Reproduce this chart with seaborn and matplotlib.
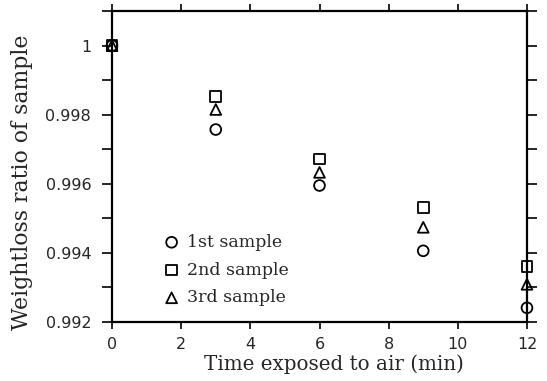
import matplotlib
matplotlib.use("Agg")
import matplotlib.pyplot as plt
import seaborn as sns
import pandas as pd
from matplotlib.ticker import MultipleLocator

# data
time_min = [0, 3, 6, 9, 12]
sample1 = [1.0, 0.99757, 0.99595, 0.99406, 0.99241]
sample2 = [1.0, 0.99853, 0.99672, 0.99532, 0.99360]
sample3 = [1.0, 0.99815, 0.99633, 0.99474, 0.99309]
labels = ["1st sample", "2nd sample", "3rd sample"]
markers = ["o", "s", "^"]

df = pd.DataFrame({
    "time": time_min * 3,
    "ratio": sample1 + sample2 + sample3,
    "sample": [l for l in labels for _ in time_min],
})

sns.set_style("ticks")
plt.rcParams["font.family"] = ["DejaVu Sans"]

fig = plt.figure(figsize=(5.47, 3.81), dpi=100)
ax = fig.add_axes([0.2048, 0.1549, 0.7586, 0.8162])

for lab, m in zip(labels, markers):
    sub = df[df["sample"] == lab]
    sns.scatterplot(data=sub, x="time", y="ratio", marker=m, s=60,
                    facecolors="none", edgecolor="black", linewidth=1.3,
                    label=lab, ax=ax, clip_on=False, zorder=3)

ax.set_xlim(0, 12)
ax.set_ylim(0.992, 1.001)
ax.xaxis.set_major_locator(MultipleLocator(2))
ax.yaxis.set_minor_locator(MultipleLocator(0.001))
ax.set_yticks([0.992, 0.994, 0.996, 0.998, 1.0])
ax.set_yticklabels(["0.992", "0.994", "0.996", "0.998", "1"])

ax.tick_params(which="both", direction="out", top=True, right=True,
               color="black", labelsize=11.5, width=1.2)
ax.tick_params(axis="y", which="both", length=7, pad=8)
ax.tick_params(axis="x", which="both", length=5, pad=6)
for sp in ax.spines.values():
    sp.set_linewidth(1.6)
    sp.set_color("black")

ax.set_xlabel("Time exposed to air (min)", family=["DejaVu Serif"], fontsize=14.3)
ax.set_ylabel("Weightloss ratio of sample", family=["DejaVu Serif"], fontsize=15.8)
ax.xaxis.set_label_coords(0.535, -0.105)
ax.yaxis.set_label_coords(-0.19, 0.45)

ax.legend(loc="lower left", bbox_to_anchor=(0.085, 0.0), frameon=False,
          prop={"family": "DejaVu Serif", "size": 12.5},
          handletextpad=0.4, labelspacing=0.62, handlelength=1.0)

fig.savefig("out.png", dpi=100)
